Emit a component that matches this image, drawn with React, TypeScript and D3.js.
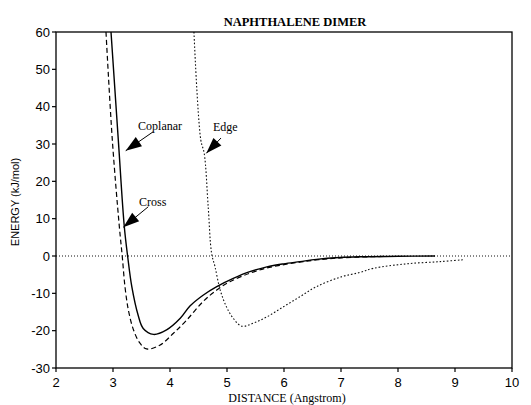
import React from "react";
import * as d3 from "d3";

// values (distance in Angstrom, energy in kJ/mol)
const coplanarX = [2.965, 3.093, 3.198, 3.258, 3.33, 3.44, 3.53, 3.71, 3.94, 4.18, 4.35, 4.58, 4.82, 5.11, 5.4, 5.7, 5.99, 6.28, 6.57, 6.98, 7.33, 8.0, 8.65];
const coplanarY = [60, 31.1, 7.9, -0.2, -8.2, -15.8, -19.4, -21, -19.8, -16.7, -13.4, -10.5, -8.2, -6, -4.2, -2.9, -2.1, -1.5, -0.9, -0.4, -0.2, -0.05, 0];

const crossX = [2.877, 2.988, 3.111, 3.163, 3.21, 3.27, 3.36, 3.47, 3.59, 3.82, 4.06, 4.29, 4.58, 4.82, 5.05, 5.4, 5.7, 6.0, 6.3, 6.6, 7.0, 7.5, 7.8];
const crossY = [60, 31.1, 7.9, -0.2, -8.2, -14.5, -19.8, -23.3, -24.9, -23.9, -20.7, -17.2, -12.2, -9.1, -6.9, -4.6, -3.2, -2.3, -1.6, -1.0, -0.5, -0.2, -0.1];

const edgeX = [4.42, 4.54, 4.6, 4.67, 4.73, 4.79, 4.88, 4.99, 5.11, 5.26, 5.46, 5.7, 5.99, 6.28, 6.57, 7.0, 7.33, 7.57, 8.15, 8.74, 9.15];
const edgeY = [60, 31.1, 27.5, 13.2, 0.7, -2.9, -9.1, -13.6, -16.7, -18.8, -18, -16.3, -13.6, -10.9, -8.2, -5.6, -4.4, -3.3, -2.1, -1.5, -1];

const xTicks = [2, 3, 4, 5, 6, 7, 8, 9, 10];
const yTicks = [60, 50, 40, 30, 20, 10, 0, -10, -20, -30];

// annotation labels: text anchor, arrow tail and arrow tip, in data units
const noteNames = ["Coplanar", "Edge", "Cross"];
const noteText = [[3.44, 33.8], [4.754, 33.5], [3.456, 13.4]];
const noteTail = [[3.707, 33.3], [4.895, 31.6], [3.619, 13.2]];
const noteTip = [[3.223, 28.2], [4.637, 27.5], [3.181, 7.7]];

const W = 531;
const H = 405;
const M = { left: 56, right: 19, top: 32, bottom: 37 };

const App = () => {
  const x = d3.scaleLinear().domain([2, 10]).range([M.left, W - M.right]);
  const y = d3.scaleLinear().domain([-30, 60]).range([H - M.bottom, M.top]);

  const line = d3
    .line<[number, number]>()
    .x((d) => x(d[0]))
    .y((d) => y(d[1]))
    .curve(d3.curveCatmullRom.alpha(0.5));

  const zip = (a: number[], b: number[]) => a.map((v, i) => [v, b[i]] as [number, number]);

  const arrowHead = (tip: number[], tail: number[]) => {
    const tx = x(tip[0]);
    const ty = y(tip[1]);
    const dx = x(tail[0]) - tx;
    const dy = y(tail[1]) - ty;
    const len = Math.hypot(dx, dy);
    const ux = dx / len;
    const uy = dy / len;
    const L = 16;
    const hw = 5.5;
    const bx = tx + ux * L;
    const by = ty + uy * L;
    return `M${tx},${ty}L${bx - uy * hw},${by + ux * hw}L${bx + uy * hw},${by - ux * hw}Z`;
  };

  const x0 = x(2);
  const x1 = x(10);
  const y0 = y(-30);
  const y1 = y(60);

  return (
    <svg width={W} height={H} style={{ position: "absolute", left: 0, top: 0, background: "#fff" }}>
      <defs>
        <clipPath id="plot">
          <rect x={x0} y={y1} width={x1 - x0} height={y0 - y1} />
        </clipPath>
      </defs>

      <text x={295} y={26} textAnchor="middle" fontFamily="Liberation Serif" fontWeight="bold" fontSize={12.5}>
        NAPHTHALENE DIMER
      </text>

      {/* zero line */}
      <line x1={x0} x2={x1} y1={y(0)} y2={y(0)} stroke="#111" strokeWidth={1} strokeDasharray="1,2" />

      <g clipPath="url(#plot)" fill="none">
        <path d={line(zip(coplanarX, coplanarY)) || ""} stroke="#000" strokeWidth={1.4} />
        <path d={line(zip(crossX, crossY)) || ""} stroke="#000" strokeWidth={1.2} strokeDasharray="5,3" />
        <path d={line(zip(edgeX, edgeY)) || ""} stroke="#111" strokeWidth={1.1} strokeDasharray="1.6,2" />
      </g>

      {/* frame */}
      <rect x={x0} y={y1} width={x1 - x0} height={y0 - y1} fill="none" stroke="#000" strokeWidth={1.3} />

      {yTicks.map((t) => (
        <g key={"y" + t}>
          <line x1={x0 - 4} x2={x0} y1={y(t)} y2={y(t)} stroke="#000" strokeWidth={1.2} />
          <text x={x0 - 6} y={y(t) + 4.5} textAnchor="end" fontFamily="Liberation Sans" fontSize={13}>
            {t}
          </text>
        </g>
      ))}

      {xTicks.map((t) => (
        <g key={"x" + t}>
          <line x1={x(t)} x2={x(t)} y1={y0} y2={y0 + 4} stroke="#000" strokeWidth={1.2} />
          <text x={x(t)} y={y0 + 19} textAnchor="middle" fontFamily="Liberation Sans" fontSize={13}>
            {t}
          </text>
        </g>
      ))}

      <text
        transform={`translate(19,${(y0 + y1) / 2 + 2}) rotate(-90)`}
        textAnchor="middle"
        fontFamily="Liberation Sans"
        fontSize={11}
      >
        ENERGY (kJ/mol)
      </text>
      <text x={287} y={402} textAnchor="middle" fontFamily="Liberation Serif" fontSize={12}>
        DISTANCE (Angstrom)
      </text>

      {noteNames.map((n, i) => (
        <g key={n}>
          <text x={x(noteText[i][0])} y={y(noteText[i][1])} fontFamily="Liberation Serif" fontSize={12}>
            {n}
          </text>
          <line
            x1={x(noteTail[i][0])}
            y1={y(noteTail[i][1])}
            x2={x(noteTip[i][0])}
            y2={y(noteTip[i][1])}
            stroke="#000"
            strokeWidth={1}
          />
          <path d={arrowHead(noteTip[i], noteTail[i])} fill="#000" />
        </g>
      ))}
    </svg>
  );
};

export default App;
